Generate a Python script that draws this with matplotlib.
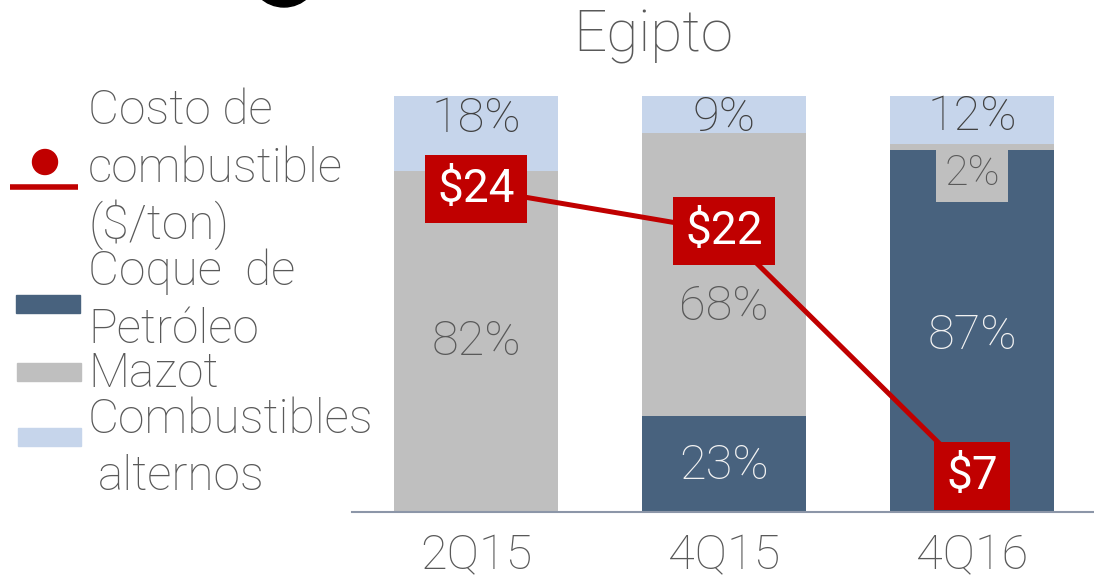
import numpy as np
import matplotlib
matplotlib.use("Agg")
import matplotlib.pyplot as plt
from matplotlib.patches import Rectangle, Circle

plt.rcParams["font.family"] = ["Roboto", "DejaVu Sans"]

# ============================================================
# Data
# ============================================================

periods = ["2Q15", "4Q15", "4Q16"]
coque = [0, 23, 87]          # Coque de Petróleo (%)
mazot = [82, 68, 1.5]        # Mazot (%)
alternos = [18, 9, 11.5]     # Combustibles alternos (%)
coque_labels = ["", "23%", "87%"]
mazot_labels = ["82%", "68%", "2%"]
alt_labels = ["18%", "9%", "12%"]
fuel_cost = [24, 21.5, 7]    # $/ton
fuel_labels = ["$24", "$22", "$7"]

C_COQUE = "#48627E"
C_MAZOT = "#BFBFBF"
C_ALT = "#C6D5EB"
C_RED = "#C00000"
C_TEXT = "#595959"

W, H = 1094, 580
fig = plt.figure(figsize=(W / 100, H / 100), dpi=100)

# main axes placed in pixel layout
x0, x1, ytop, ybot = 352, 1096, 96, 512
ax = fig.add_axes([x0 / W, (H - ybot) / H, (x1 - x0) / W, (ybot - ytop) / H])
x = np.arange(len(periods))
bw = 0.665
ax.bar(x, coque, bw, color=C_COQUE, zorder=2)
ax.bar(x, mazot, bw, bottom=coque, color=C_MAZOT, zorder=2)
bott = np.array(coque) + np.array(mazot)
ax.bar(x, alternos, bw, bottom=bott, color=C_ALT, zorder=2)
ax.set_xlim(-0.5, 2.5)
ax.set_ylim(0, 100)
ax.set_yticks([])
ax.set_xticks(x)
ax.set_xticklabels(periods, fontsize=35, color=C_TEXT, fontweight="light")
ax.tick_params(axis="x", length=0, pad=15)
for s in ["top", "right", "left"]:
    ax.spines[s].set_visible(False)
ax.spines["bottom"].set_color("#8C96A8")
ax.spines["bottom"].set_linewidth(1.5)

# segment labels
alt_y = [94.6, 94.8, 95.0]
mazot_y = [41, 49.3, 81.3]
coque_y = [0, 11.1, 42.3]
for i in range(len(periods)):
    ax.text(x[i], alt_y[i], alt_labels[i], ha="center", va="center",
            fontsize=35, color="#404040", fontweight="light", zorder=5)
    if i < 2:
        ax.text(x[i], mazot_y[i], mazot_labels[i], ha="center", va="center",
                fontsize=35, color=C_TEXT, fontweight="light", zorder=5)
    else:
        ax.text(x[i], mazot_y[i], mazot_labels[i], ha="center", va="center",
                fontsize=31, color=C_TEXT, fontweight="light", zorder=5,
                bbox=dict(boxstyle="square,pad=0.18", fc=C_MAZOT, ec="none"))
    if coque_labels[i]:
        ax.text(x[i], coque_y[i], coque_labels[i], ha="center", va="center",
                fontsize=35, color="#F2F2F2", fontweight="light", zorder=5)

# fuel cost line on hidden secondary axis
ax2 = ax.twinx()
ax2.set_ylim(4.85, 29.5)
ax2.axis("off")
ax2.plot(x, fuel_cost, color=C_RED, lw=3.6, zorder=3)
for i in range(len(periods)):
    ax2.text(x[i], fuel_cost[i], fuel_labels[i], ha="center", va="center",
             fontsize=33, color="white", zorder=6,
             bbox=dict(boxstyle="square,pad=0.26", fc=C_RED, ec="none"))

# overlay in pixel coordinates for title, legend and decoration
ov = fig.add_axes([0, 0, 1, 1], zorder=10)
ov.set_xlim(0, W)
ov.set_ylim(H, 0)
ov.axis("off")
ov.patch.set_alpha(0)

ov.text(653, 51, "Egipto", ha="center", va="baseline", fontsize=42,
        color=C_TEXT, fontweight="light")
ov.add_patch(Circle((284, -28), 35, color="black"))

ov.plot([10, 78], [187, 187], color=C_RED, lw=4, solid_capstyle="butt")
ov.add_patch(Circle((45, 162), 12.5, color=C_RED))
ov.add_patch(Rectangle((16, 295), 64, 18, color=C_COQUE))
ov.add_patch(Rectangle((17, 363), 64, 18, color=C_MAZOT))
ov.add_patch(Rectangle((18, 428), 63, 18, color=C_ALT))

legend_lines = [
    ("Costo de", 88, 124),
    ("combustible", 88, 182),
    ("($/ton)", 88, 239),
    ("Coque  de", 88, 285),
    ("Petróleo", 88, 343),
    ("Mazot", 88, 387),
    ("Combustibles", 88, 433),
    ("alternos", 98, 490),
]
for txt, tx, ty in legend_lines:
    ov.text(tx, ty, txt, ha="left", va="baseline", fontsize=34.5,
            color=C_TEXT, fontweight="light")

fig.savefig("out.png", dpi=100)
